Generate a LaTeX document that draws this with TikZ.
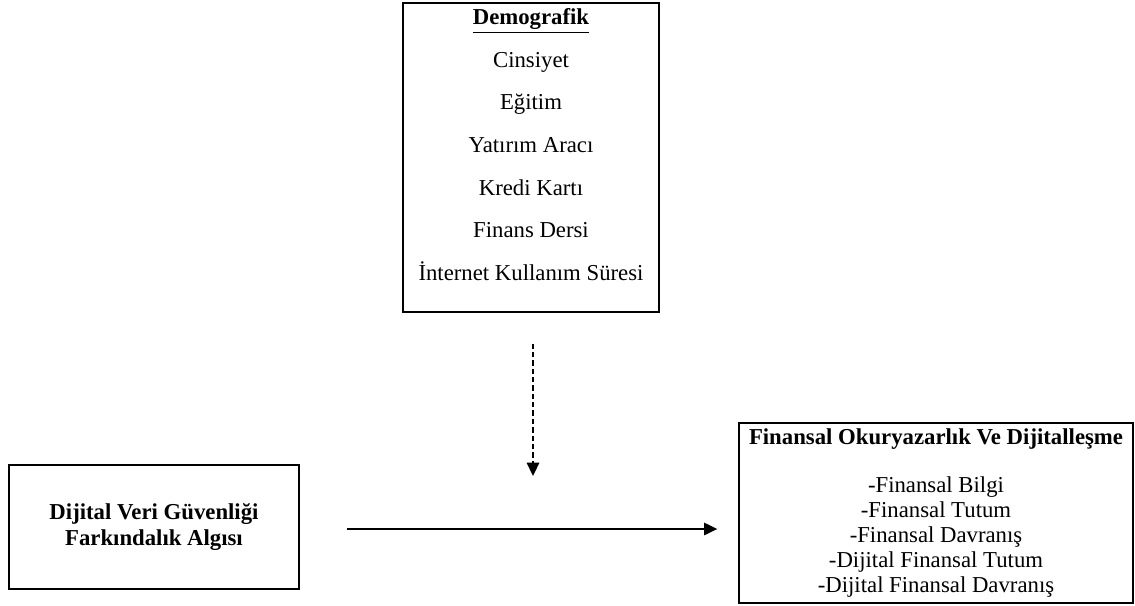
\documentclass[tikz,border=0pt]{standalone}
\usepackage{fontspec}
\setmainfont{Liberation Serif}
\usetikzlibrary{arrows.meta,positioning}

\begin{document}
\begin{tikzpicture}[x=0.5625pt,y=-0.5625pt,
    box/.style={draw,line width=0.8pt,align=center,font=\fontsize{12.8}{14}\selectfont},
    arr/.style={line width=1pt,-{Triangle[length=7.5pt,width=7pt]}}]
  \useasboundingbox (0,0) rectangle (1135,605);

  \node[box,minimum width=144pt,minimum height=173.8pt] (demog) at (531,157.5) {};
  \node[align=center,font=\fontsize{12.8}{24}\selectfont,below=0pt of demog.north] (demoglist)
    {\textbf{\underline{Demografik}}\\Cinsiyet\\Eğitim\\Yatırım Aracı\\Kredi Kartı\\Finans Dersi\\İnternet Kullanım Süresi};

  \node[box,font=\bfseries\fontsize{12.8}{14.2}\selectfont,minimum width=163.1pt,minimum height=69.75pt] (dvg) at (154,527)
    {Dijital Veri Güvenliği\\Farkındalık Algısı};

  \node[box,minimum width=221.6pt,minimum height=100.1pt] (fin) at (936,513)
    {\textbf{Finansal Okuryazarlık Ve Dijitalleşme}\\[13pt]
     -Finansal Bilgi\\-Finansal Tutum\\-Finansal Davranış\\-Dijital Finansal Tutum\\-Dijital Finansal Davranış};

  \coordinate (mod) at (533,476);
  \draw[arr,dash pattern=on 3pt off 1.7pt,shorten <=17.4pt] (demog.south -| mod) -- (mod);
  \draw[arr,shorten <=26.4pt,shorten >=11.8pt] (dvg.east) ++(0,2) -- (fin.west |- 0,529);
\end{tikzpicture}
\end{document}
